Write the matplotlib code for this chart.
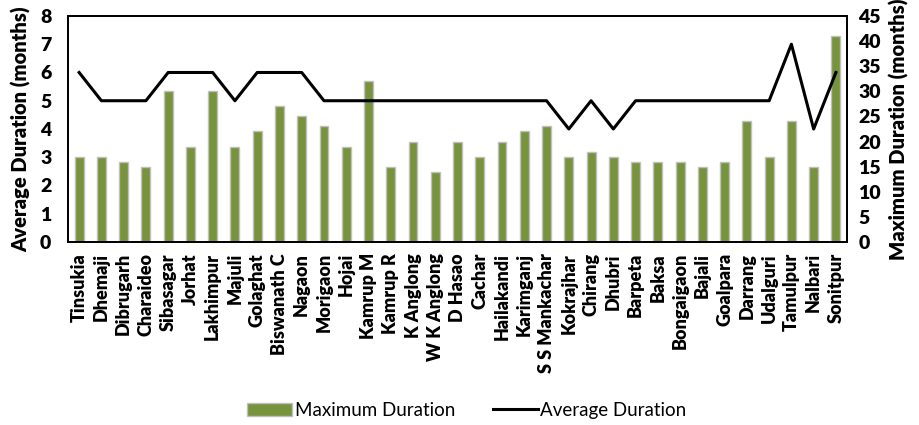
import matplotlib
matplotlib.use("Agg")
import matplotlib.pyplot as plt
from matplotlib.patches import Patch
from matplotlib.lines import Line2D

districts = ["Tinsukia", "Dhemaji", "Dibrugarh", "Charaideo", "Sibasagar", "Jorhat",
             "Lakhimpur", "Majuli", "Golaghat", "Biswanath C", "Nagaon", "Morigaon",
             "Hojai", "Kamrup M", "Kamrup R", "K Anglong", "W K Anglong", "D Hasao",
             "Cachar", "Hailakandi", "Karimganj", "S S Mankachar", "Kokrajhar", "Chirang",
             "Dhubri", "Barpeta", "Baksa", "Bongaigaon", "Bajali", "Goalpara", "Darrang",
             "Udalguri", "Tamulpur", "Nalbari", "Sonitpur"]

max_duration = [17, 17, 16, 15, 30, 19, 30, 19, 22, 27, 25, 23, 19, 32, 15, 20, 14, 20,
                17, 20, 22, 23, 17, 18, 17, 16, 16, 16, 15, 16, 24, 17, 24, 15, 41]

avg_duration = [6, 5, 5, 5, 6, 6, 6, 5, 6, 6, 6, 5, 5, 5, 5, 5, 5, 5,
                5, 5, 5, 5, 4, 5, 4, 5, 5, 5, 5, 5, 5, 5, 7, 4, 6]

left_ticks = list(range(0, 9))
right_ticks = list(range(0, 46, 5))

font = "Lato"
weight = "heavy"
bar_color = "#77933C"
edge_color = "#BFBFBF"

fig = plt.figure(figsize=(9.19, 4.25), dpi=100)
ax = fig.add_axes([0.074, 0.4306, 0.8477, 0.5318])
ax2 = ax.twinx()

x = list(range(len(districts)))
ax2.bar(x, max_duration, width=0.4, color=bar_color, edgecolor=edge_color, linewidth=1.0)
ax.plot(x, avg_duration, color="black", linewidth=2.2)

ax.set_zorder(ax2.get_zorder() + 1)
ax.patch.set_visible(False)

ax.set_xlim(-0.5, len(districts) - 0.5)
ax.set_ylim(0, 8)
ax2.set_ylim(0, 45)
ax.set_yticks(left_ticks)
ax2.set_yticks(right_ticks)
ax.set_xticks(x)
ax.set_xticklabels(districts, rotation=90, fontfamily=font, fontweight=weight, fontsize=13)
ax.tick_params(axis="x", length=0, pad=8)
ax.tick_params(axis="y", length=0, pad=12)
ax2.tick_params(axis="y", length=0, pad=8)
for lab in ax.get_yticklabels():
    lab.set_fontfamily(font); lab.set_fontweight(weight); lab.set_fontsize(14)
for lab in ax2.get_yticklabels():
    lab.set_fontfamily(font); lab.set_fontweight(weight); lab.set_fontsize(14)

for a in (ax, ax2):
    for s in a.spines.values():
        s.set_color("black")
        s.set_linewidth(1.3)

ax.set_ylabel("Average Duration (months)", fontfamily=font, fontweight=weight, fontsize=14.5, labelpad=6)
ax2.set_ylabel("Maximum Duration (months)", fontfamily=font, fontweight=weight, fontsize=14.5, labelpad=6)

handles = [Patch(facecolor=bar_color, edgecolor=edge_color, linewidth=1.0),
           Line2D([0], [0], color="black", linewidth=2.2)]
fig.legend(handles, ["Maximum Duration", "Average Duration"], loc="center",
           bbox_to_anchor=(0.508, 0.035), ncol=2, frameon=False,
           prop={"family": font, "size": 13.5}, handlelength=2.4, handletextpad=0.15,
           columnspacing=2.0)

fig.savefig("out.png", dpi=100)
